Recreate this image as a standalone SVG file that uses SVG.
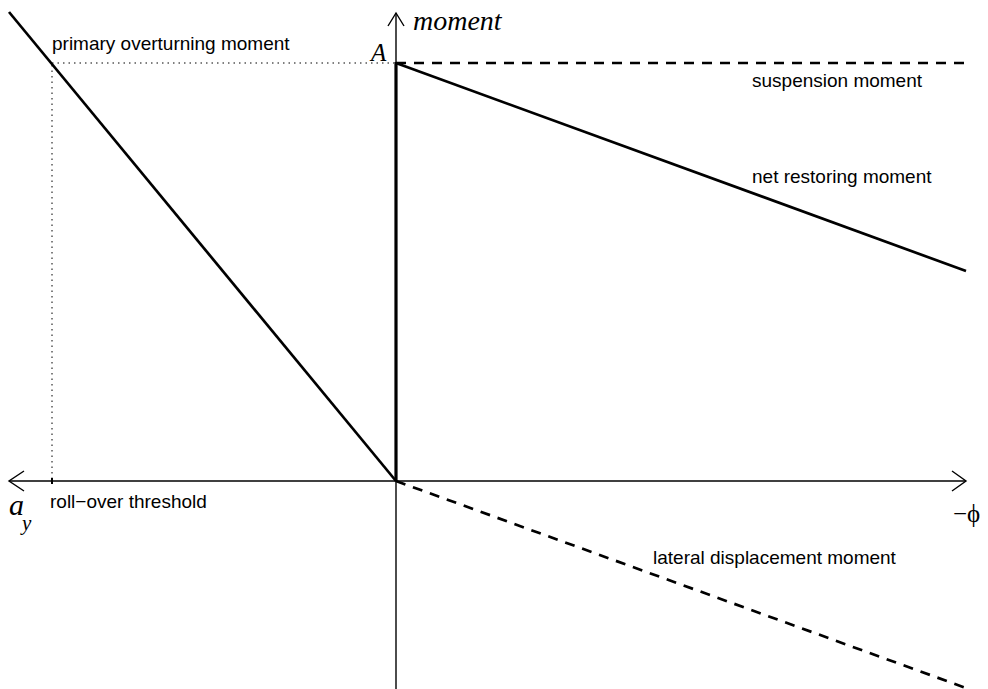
<svg xmlns="http://www.w3.org/2000/svg" width="988" height="689" viewBox="0 0 988 689">
  <style>
    .axis { stroke: #000; stroke-width: 1.4; fill: none; }
    .thick { stroke: #000; stroke-width: 3.2; fill: none; }
    .curve { stroke: #000; stroke-width: 2.7; fill: none; }
    .dash { stroke: #000; stroke-width: 2.7; fill: none; stroke-dasharray: 10 8; }
    .dot { stroke: #000; stroke-width: 1; fill: none; stroke-dasharray: 1.5 4; }
    .lbl { font-family: "Liberation Sans", Arial, sans-serif; font-size: 19px; fill: #000; }
    .math { font-family: "Liberation Serif", "Times New Roman", serif; font-style: italic; fill: #000; }
    .sym { font-family: "Liberation Serif", "Times New Roman", serif; font-style: normal; fill: #000; }
  </style>
  <rect width="988" height="689" fill="#fff"/>

  <!-- axes -->
  <g id="axes">
    <line class="axis" x1="396" y1="13" x2="396" y2="689"/>
    <polyline class="axis" points="388,26 396,13 404,26"/>
    <line class="axis" x1="9" y1="481" x2="966" y2="481"/>
    <polyline class="axis" points="24,471 9,481 24,491"/>
    <polyline class="axis" points="952,471 966,481 952,491"/>
  </g>

  <!-- guide lines -->
  <g id="guides">
    <line class="dot" x1="52" y1="63" x2="394" y2="63"/>
    <line class="dot" x1="52" y1="65" x2="52" y2="481"/>
    <line stroke="#000" stroke-width="2" x1="52" y1="478" x2="52" y2="484"/>
  </g>

  <!-- moment curves -->
  <g id="connectors">
    <line class="curve" x1="9" y1="12" x2="396" y2="481"/>
    <line class="thick" x1="396" y1="62" x2="396" y2="481"/>
    <line class="dash" x1="396" y1="63" x2="966" y2="63"/>
    <line class="curve" x1="396" y1="63" x2="966" y2="271"/>
    <line class="dash" x1="396" y1="481" x2="966" y2="688"/>
  </g>

  <!-- labels -->
  <g id="labels">
    <text class="lbl" x="52" y="50">primary overturning moment</text>
    <text class="math" x="371" y="61" font-size="25">A</text>
    <text class="math" x="413" y="30" font-size="28">moment</text>
    <text class="lbl" x="752" y="87">suspension moment</text>
    <text class="lbl" x="752" y="183">net restoring moment</text>
    <text class="lbl" x="50" y="508">roll−over threshold</text>
    <text class="math" x="9" y="515" font-size="30">a</text>
    <text class="math" x="22" y="530" font-size="21">y</text>
    <text class="sym" x="953" y="522" font-size="25">−ϕ</text>
    <text class="lbl" x="653" y="564">lateral displacement moment</text>
  </g>
</svg>
